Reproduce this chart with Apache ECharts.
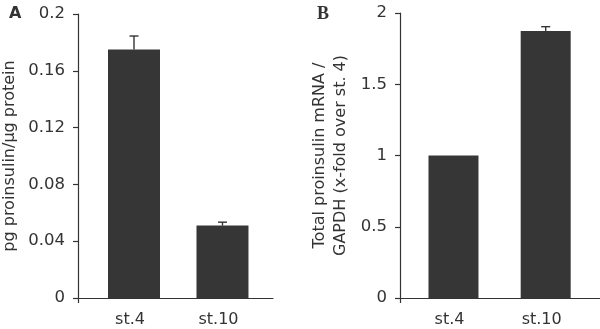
<!DOCTYPE html>
<html>
<head>
<meta charset="utf-8">
<script src="https://cdn.jsdelivr.net/npm/echarts@6/dist/echarts.min.js"></script>
<style>
  html, body { margin: 0; padding: 0; background: #fff; }
  #chart { width: 600px; height: 329px; }
</style>
</head>
<body>
<div id="chart"></div>
<script>
// data
const categories = ["st.4", "st.10"];
const proteinValues = [0.175, 0.051];
const proteinErrors = [0.0095, 0.0024];
const mrnaValues = [1.0, 1.874];
const mrnaErrors = [0, 0.03];
const yTicksA = [0, 0.04, 0.08, 0.12, 0.16, 0.2];
const yTicksB = [0, 0.5, 1, 1.5, 2];

const INK = "#333";
const BAR = "#363636";
const FONT = "DejaVu Sans";

const chart = echarts.init(document.getElementById("chart"));

function xAxis(gridIndex, min, max) {
  return {
    type: "value",
    gridIndex,
    min,
    max,
    axisLine: { show: true, onZero: false, lineStyle: { color: INK, width: 1.2 } },
    axisTick: { show: true, customValues: [min], length: 5, lineStyle: { color: INK, width: 1.2 } },
    splitLine: { show: false },
    axisLabel: {
      customValues: categories.map((_, i) => i),
      formatter: (v) => categories[Math.round(v)],
      color: INK,
      fontFamily: FONT,
      fontSize: 16,
      margin: 14,
      padding: [0, 8, 0, 0],
    },
  };
}

function yAxis(gridIndex, ticks, name, nameGap) {
  return {
    type: "value",
    gridIndex,
    min: ticks[0],
    max: ticks[ticks.length - 1],
    interval: ticks[1] - ticks[0],
    axisLine: { show: true, onZero: false, lineStyle: { color: INK, width: 1.2 } },
    axisTick: { show: true, length: 5, lineStyle: { color: INK, width: 1.2 } },
    splitLine: { show: false },
    axisLabel: { color: INK, fontFamily: FONT, fontSize: 16.5, margin: 13 },
    name,
    nameLocation: "middle",
    nameGap,
    nameTextStyle: { color: INK, fontFamily: FONT, fontSize: 16, lineHeight: 20.5 },
  };
}

function barSeries(idx, values, width) {
  return {
    type: "bar",
    xAxisIndex: idx,
    yAxisIndex: idx,
    barWidth: width,
    itemStyle: { color: BAR },
    data: values.map((v, i) => [i, v]),
    silent: true,
  };
}

function errorSeries(idx, values, errors) {
  return {
    type: "custom",
    xAxisIndex: idx,
    yAxisIndex: idx,
    z: 3,
    silent: true,
    data: values.map((v, i) => [i, v, errors[i]]),
    renderItem: (params, api) => {
      const x = api.value(0);
      const v = api.value(1);
      const e = api.value(2);
      if (!e) return null;
      const base = api.coord([x, v]);
      const top = api.coord([x, v + e]);
      const style = { stroke: INK, lineWidth: 1.4 };
      return {
        type: "group",
        children: [
          { type: "line", shape: { x1: base[0], y1: base[1], x2: top[0], y2: top[1] }, style },
          { type: "line", shape: { x1: top[0] - 4.5, y1: top[1], x2: top[0] + 4.5, y2: top[1] }, style },
        ],
      };
    },
  };
}

chart.setOption({
  animation: false,
  backgroundColor: "#fff",
  title: [
    { text: "A", left: 4, top: 1, textStyle: { fontFamily: "DejaVu Sans", fontWeight: "bold", fontSize: 16, color: INK } },
    { text: "B", left: 312, top: 0, textStyle: { fontFamily: "Liberation Serif", fontWeight: "bold", fontSize: 18, color: INK } },
  ],
  grid: [
    { left: 78, top: 14, width: 195, bottom: 31, outerBoundsMode: "none" },
    { left: 400, top: 13, width: 200, bottom: 31, outerBoundsMode: "none" },
  ],
  xAxis: [xAxis(0, -0.633, 1.571), xAxis(1, -0.58, 1.589)],
  yAxis: [
    yAxis(0, yTicksA, "pg proinsulin/µg protein", 58),
    yAxis(1, yTicksB, "Total proinsulin mRNA /\nGAPDH (x-fold over st. 4)", 49),
  ],
  series: [
    barSeries(0, proteinValues, 52),
    errorSeries(0, proteinValues, proteinErrors),
    barSeries(1, mrnaValues, 50),
    errorSeries(1, mrnaValues, mrnaErrors),
  ],
});
</script>
</body>
</html>
